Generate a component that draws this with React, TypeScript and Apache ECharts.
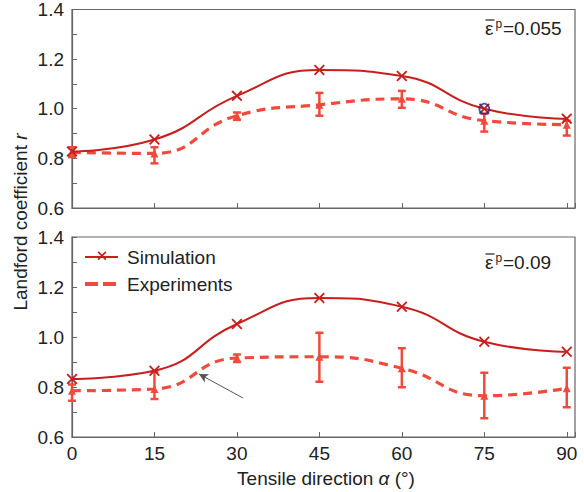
import React, { useEffect, useRef } from "react";
import * as echarts from "echarts";

const angles = [0, 15, 30, 45, 60, 75, 90];
const xTicks = [0, 15, 30, 45, 60, 75, 90];
const yTicks = [0.6, 0.8, 1.0, 1.2, 1.4];

// Top panel (eps = 0.055)
const simTop = [0.828, 0.876, 1.052, 1.156, 1.132, 1.0, 0.96];
const expTop = [0.824, 0.82, 0.972, 1.016, 1.04, 0.952, 0.936];
const expTopLow = [0.805, 0.78, 0.955, 0.972, 1.004, 0.908, 0.892];
const expTopHigh = [0.845, 0.845, 0.985, 1.064, 1.072, 0.98, 0.952];
const highlightTop = [[75, 1.0]];

// Bottom panel (eps = 0.09)
const simBot = [0.832, 0.865, 1.052, 1.156, 1.121, 0.981, 0.941];
const expBot = [0.785, 0.792, 0.916, 0.921, 0.875, 0.765, 0.795];
const expBotLow = [0.745, 0.752, 0.9, 0.821, 0.799, 0.675, 0.719];
const expBotHigh = [0.81, 0.861, 0.93, 1.017, 0.955, 0.857, 0.877];
const arrowFrom = [31.1, 0.756];
const arrowTo = [23.1, 0.852];

const epsLabels = ["=0.055", "=0.09"];

const simColor = "#c81e1e";
const expColor = "#ef4a3c";
const frameColor = "#666";
const textColor = "#222";
const FONT = "Liberation Sans";
const FS = 19;

const crossPath =
  "path://M0,1.2L1.2,0L5,3.8L8.8,0L10,1.2L6.2,5L10,8.8L8.8,10L5,6.2L1.2,10L0,8.8L3.8,5Z";

function pairs(xs: number[], ys: number[]) {
  return xs.map((x, i) => [x, ys[i]]);
}

function epsGraphic(x: number, y: number, val: string) {
  return {
    type: "group",
    x,
    y,
    children: [
      { type: "text", x: 0, y: 0, style: { text: "ε", fontSize: FS, fontFamily: FONT, fill: textColor, verticalAlign: "middle" } },
      { type: "line", shape: { x1: 0.5, y1: -8, x2: 9.5, y2: -8 }, style: { stroke: textColor, lineWidth: 1.2 } },
      { type: "text", x: 10.5, y: -4, style: { text: "p", fontSize: 12, fontFamily: FONT, fill: textColor, verticalAlign: "middle" } },
      { type: "text", x: 18, y: 0, style: { text: val, fontSize: FS, fontFamily: FONT, fill: textColor, verticalAlign: "middle" } },
    ],
  };
}

export default function App() {
  const ref = useRef<HTMLDivElement>(null);
  useEffect(() => {
    if (!ref.current) return;
    const chart = echarts.init(ref.current, null, { renderer: "svg" });

    const xAxisBase = (gridIndex: number, showLabels: boolean) => ({
      type: "value" as const,
      gridIndex,
      min: 0,
      max: 91.5,
      interval: 15,
      axisLine: { show: true, lineStyle: { color: frameColor, width: 1.2 } },
      axisTick: { show: true, inside: true, length: 5, lineStyle: { color: frameColor } },
      splitLine: { show: false },
      axisLabel: {
        show: showLabels,
        color: textColor,
        fontFamily: FONT,
        fontSize: FS,
        margin: 7,
        formatter: (v: number) => (xTicks.includes(v) ? String(v) : ""),
      },
    });
    const yAxisBase = (gridIndex: number) => ({
      type: "value" as const,
      gridIndex,
      min: 0.6,
      max: 1.4,
      interval: 0.2,
      axisLine: { show: true, lineStyle: { color: frameColor, width: 1.2 } },
      axisTick: { show: true, inside: true, length: 5, lineStyle: { color: frameColor } },
      minorTick: { show: true, splitNumber: 2, length: 5, lineStyle: { color: frameColor } },
      splitLine: { show: false },
      axisLabel: {
        color: textColor,
        fontFamily: FONT,
        fontSize: FS,
        margin: 8,
        formatter: (v: number) => {
          const t = yTicks.find((y) => Math.abs(y - v) < 1e-6);
          return t !== undefined ? t.toFixed(1) : "";
        },
      },
    });

    const errRender = () => (params: any, api: any) => {
      const x = api.value(0);
      const lo = api.coord([x, api.value(1)]);
      const hi = api.coord([x, api.value(2)]);
      const cap = 4;
      const style = { stroke: expColor, lineWidth: 2.5 };
      return {
        type: "group",
        children: [
          { type: "line", shape: { x1: lo[0], y1: lo[1], x2: hi[0], y2: hi[1] }, style },
          { type: "line", shape: { x1: lo[0] - cap, y1: lo[1], x2: lo[0] + cap, y2: lo[1] }, style },
          { type: "line", shape: { x1: hi[0] - cap, y1: hi[1], x2: hi[0] + cap, y2: hi[1] }, style },
        ],
      };
    };

    const simSeries = (idx: number, data: number[]) => ({
      type: "line",
      xAxisIndex: idx,
      yAxisIndex: idx,
      data: pairs(angles, data),
      smooth: 0.5,
      symbol: crossPath,
      symbolSize: 11,
      itemStyle: { color: simColor },
      lineStyle: { color: simColor, width: 2 },
      z: 5,
    });
    const expSeries = (idx: number, data: number[], extra: any = {}) => ({
      type: "line",
      xAxisIndex: idx,
      yAxisIndex: idx,
      data: pairs(angles, data),
      smooth: 0.5,
      symbol: "triangle",
      symbolSize: 8,
      itemStyle: { color: expColor },
      lineStyle: { color: expColor, width: 3.2, type: [9, 6] },
      z: 4,
      ...extra,
    });
    const errSeries = (idx: number, lowArr: number[], highArr: number[]) => ({
      type: "custom",
      xAxisIndex: idx,
      yAxisIndex: idx,
      data: angles.map((a, i) => [a, lowArr[i], highArr[i]]),
      renderItem: errRender(),
      z: 4,
    });

    const option: any = {
      animation: false,
      grid: [
        { left: 72, top: 8, width: 503, height: 200, show: true, borderColor: frameColor, borderWidth: 1.2, backgroundColor: "transparent" },
        { left: 72, top: 237, width: 503, height: 200, show: true, borderColor: frameColor, borderWidth: 1.2, backgroundColor: "transparent" },
      ],
      xAxis: [xAxisBase(0, false), xAxisBase(1, true)],
      yAxis: [yAxisBase(0), yAxisBase(1)],
      series: [
        errSeries(0, expTopLow, expTopHigh),
        expSeries(0, expTop),
        simSeries(0, simTop),
        {
          type: "scatter",
          xAxisIndex: 0,
          yAxisIndex: 0,
          data: highlightTop,
          symbol: "circle",
          symbolSize: 10,
          itemStyle: { color: "rgba(0,0,0,0)", borderColor: "#1f2a8a", borderWidth: 1.8 },
          z: 6,
        },
        errSeries(1, expBotLow, expBotHigh),
        expSeries(1, expBot, {
          markLine: {
            silent: true,
            symbol: ["none", "arrow"],
            symbolSize: [7, 9],
            label: { show: false },
            lineStyle: { color: "#555", width: 1, type: "solid" },
            data: [[{ coord: arrowFrom }, { coord: arrowTo }]],
          },
        }),
        simSeries(1, simBot),
      ],
      graphic: [
        {
          type: "text",
          x: 20,
          y: 222,
          rotation: Math.PI / 2,
          style: {
            text: "{a|Landford coefficient }{b|r}",
            align: "center",
            verticalAlign: "middle",
            rich: {
              a: { fontSize: FS, fontFamily: FONT, fill: textColor },
              b: { fontSize: FS, fontFamily: FONT, fontStyle: "italic", fill: textColor },
            },
          },
        },
        {
          type: "text",
          x: 326,
          y: 478,
          style: {
            text: "{a|Tensile direction }{b|α}{a| (°)}",
            align: "center",
            verticalAlign: "middle",
            rich: {
              a: { fontSize: FS, fontFamily: FONT, fill: textColor },
              b: { fontSize: FS, fontFamily: FONT, fontStyle: "italic", fill: textColor },
            },
          },
        },
        epsGraphic(485, 28, epsLabels[0]),
        epsGraphic(485, 262, epsLabels[1]),
        // legend
        { type: "line", shape: { x1: 85, y1: 257, x2: 118, y2: 257 }, style: { stroke: simColor, lineWidth: 2 } },
        {
          type: "polygon",
          shape: {
            points: [
              [97.5, 252.5], [98.7, 251.3], [102, 254.6], [105.3, 251.3], [106.5, 252.5], [103.2, 255.8],
              [106.5, 259.1], [105.3, 260.3], [102, 257], [98.7, 260.3], [97.5, 259.1], [100.8, 255.8],
            ],
          },
          style: { fill: simColor },
        },
        { type: "text", x: 127, y: 257, style: { text: "Simulation", fontSize: FS, fontFamily: FONT, fill: textColor, verticalAlign: "middle" } },
        { type: "line", shape: { x1: 85, y1: 284, x2: 118, y2: 284 }, style: { stroke: expColor, lineWidth: 4, lineDash: [13, 5] } },
        { type: "text", x: 127, y: 284, style: { text: "Experiments", fontSize: FS, fontFamily: FONT, fill: textColor, verticalAlign: "middle" } },
      ],
    };
    chart.setOption(option);
    return () => chart.dispose();
  }, []);
  return (
    <div
      ref={ref}
      style={{ position: "fixed", left: 0, top: 0, width: 584, height: 492, background: "#fff" }}
    />
  );
}
